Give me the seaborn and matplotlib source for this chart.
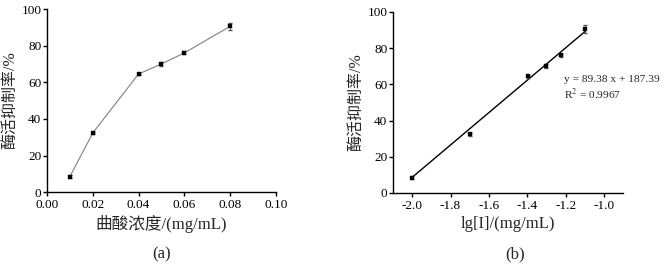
import numpy as np
import pandas as pd
import matplotlib
matplotlib.use("Agg")
import matplotlib.pyplot as plt
import seaborn as sns

# Data
conc = [0.01, 0.02, 0.04, 0.05, 0.06, 0.08]
inhibition = [8.5, 32.3, 64.5, 70.0, 76.0, 90.5]
err = [0.8, 0.8, 0.8, 1.2, 0.8, 2.0]
lg_conc = [-2.0, -1.699, -1.398, -1.301, -1.222, -1.097]
slope, intercept = 89.38, 187.39
eq_text = "y = 89.38 x + 187.39"
r2_text = "R$^2$ = 0.9967"
xticks_a = [0.00, 0.02, 0.04, 0.06, 0.08, 0.10]
xticks_b = [-2.0, -1.8, -1.6, -1.4, -1.2, -1.0]
yticks = [0, 20, 40, 60, 80, 100]

sns.set_style("ticks")
plt.rcParams['font.family'] = ['Liberation Serif', 'Noto Sans CJK SC']
plt.rcParams['mathtext.fontset'] = 'stix'

df = pd.DataFrame({"conc": conc, "inh": inhibition, "err": err, "lg": lg_conc})

fig = plt.figure(figsize=(6.65, 2.65), dpi=100)
ax1 = fig.add_axes([0.0707, 0.275, 0.344, 0.691])
ax2 = fig.add_axes([0.591, 0.272, 0.346, 0.683])

for ax in (ax1, ax2):
    for s in ("top", "right"):
        ax.spines[s].set_visible(False)
    for s in ("left", "bottom"):
        ax.spines[s].set_linewidth(1.0)
        ax.spines[s].set_color("black")
    ax.tick_params(direction="out", length=3, width=1.0, labelsize=9.5, colors="black")
    ax.tick_params(axis="y", pad=1)
    ax.tick_params(axis="x", pad=2)
    ax.set_yticks(yticks)
    ax.set_ylim(0, 100)

# Panel (a)
sns.lineplot(data=df, x="conc", y="inh", ax=ax1, color="#808080", linewidth=0.8, sort=False)
ax1.errorbar(df["conc"], df["inh"], yerr=df["err"], fmt="none", ecolor="#555555", elinewidth=0.6, capsize=1.5)
sns.scatterplot(data=df, x="conc", y="inh", ax=ax1, marker="s", s=10, color="black", edgecolor="black", zorder=3)
ax1.set_xlim(0, 0.10)
ax1.set_xticks(xticks_a)
ax1.set_xticklabels([f"{v:.2f}" for v in xticks_a])
ax1.set_xlabel("曲酸浓度/(mg/mL)", fontsize=12, labelpad=3)
ax1.set_ylabel("酶活抑制率/%", fontsize=11.5, labelpad=2)
fig.text(0.243, 0.04, "(a)", ha="center", va="center", fontsize=12)

# Panel (b)
fit_x = np.array([lg_conc[0], lg_conc[-1]])
fit_df = pd.DataFrame({"x": fit_x, "y": slope * fit_x + intercept})
sns.lineplot(data=fit_df, x="x", y="y", ax=ax2, color="black", linewidth=1.0)
ax2.errorbar(df["lg"], df["inh"], yerr=df["err"], fmt="none", ecolor="#555555", elinewidth=0.6, capsize=1.5)
sns.scatterplot(data=df, x="lg", y="inh", ax=ax2, marker="s", s=10, color="black", edgecolor="black", zorder=3)
ax2.set_xlim(-2.1, -0.9)
ax2.set_xticks(xticks_b)
ax2.set_xticklabels([f"{v:.1f}" for v in xticks_b])
ax2.set_xlabel("lg[I]/(mg/mL)", fontsize=12, labelpad=3)
ax2.set_ylabel("酶活抑制率/%", fontsize=11.5, labelpad=2)
ax2.text(-1.21, 62.5, eq_text, fontsize=8.2, va="center", ha="left")
ax2.text(-1.21, 54.5, r2_text, fontsize=8.2, va="center", ha="left")
fig.text(0.775, 0.04, "(b)", ha="center", va="center", fontsize=12)

fig.savefig("out.png", dpi=100, facecolor="white")
